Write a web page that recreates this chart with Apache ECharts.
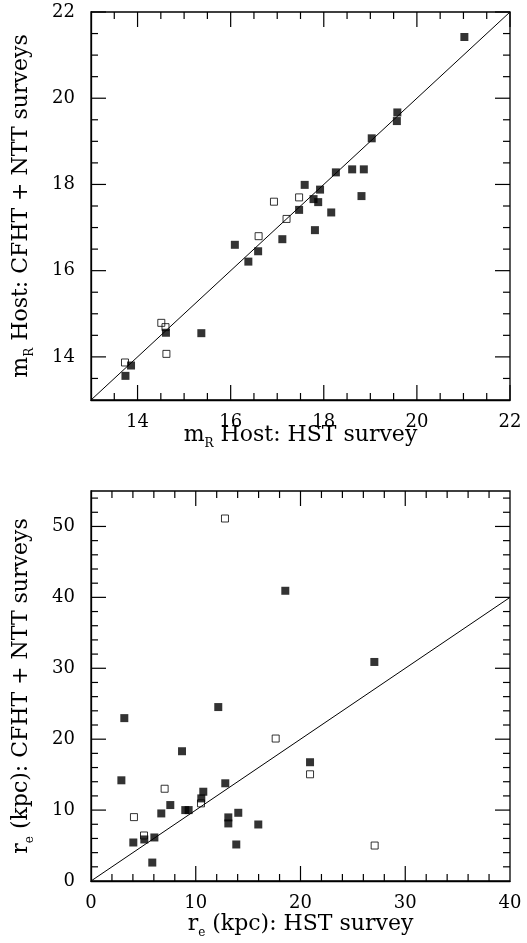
<!DOCTYPE html>
<html>
<head>
<meta charset="utf-8">
<script src="https://cdn.jsdelivr.net/npm/echarts@6/dist/echarts.min.js"></script>
<style>
html,body{margin:0;padding:0;background:#fff;}
#chart{width:527px;height:943px;}
</style>
</head>
<body>
<div id="chart"></div>
<script>
// ---- Data: top panel (m_R host magnitudes) ----
const magFilled = [
  [21.02,21.42],[19.58,19.67],[19.57,19.47],[19.03,19.07],[18.61,18.35],[18.86,18.35],
  [18.26,18.28],[17.59,17.99],[17.92,17.88],[17.47,17.41],[17.78,17.66],[17.88,17.59],
  [18.81,17.73],[18.16,17.35],[17.81,16.94],[17.11,16.73],[16.09,16.60],[16.38,16.21],
  [16.59,16.45],[14.61,14.56],[15.37,14.55],[13.86,13.80],[13.74,13.56]
];
const magOpen = [
  [16.93,17.60],[17.47,17.70],[17.20,17.20],[16.60,16.80],[14.51,14.79],[14.60,14.69],
  [14.62,14.07],[13.73,13.87]
];
const magLine = [[13,13],[22,22]];
const magRange = [13,22];
const magMajorTicks = [14,16,18,20,22];
const magMinorTicks = [13.5,14.5,15,15.5,16.5,17,17.5,18.5,19,19.5,20.5,21,21.5];

// ---- Data: bottom panel (r_e in kpc) ----
const reFilled = [
  [18.55,40.93],[27.05,30.89],[20.91,16.75],[12.15,24.53],[3.18,22.97],[8.69,18.30],
  [2.90,14.20],[12.82,13.78],[10.72,12.59],[10.53,11.65],[7.57,10.71],[6.71,9.53],
  [9.00,10.00],[9.32,10.00],[13.11,8.97],[13.11,8.12],[14.06,9.62],[15.97,7.97],
  [13.87,5.15],[6.05,6.14],[5.09,5.86],[4.04,5.43],[5.85,2.60]
];
const reOpen = [
  [12.79,51.12],[17.63,20.09],[20.91,15.05],[27.08,5.00],[7.03,13.01],[10.50,10.95],
  [4.10,9.01],[5.06,6.42]
];
const reLine = [[0,0],[40,40]];
const reXRange = [0,40];
const reYRange = [0,55];
const reXMajorTicks = [10,20,30];
const reXMinorTicks = [2,4,6,8,12,14,16,18,22,24,26,28,32,34,36,38];
const reYMajorTicks = [10,20,30,40,50];
const reYMinorTicks = [2,4,6,8,12,14,16,18,22,24,26,28,32,34,36,38,42,44,46,48,52,54];
const reXLabels = [0,10,20,30,40];
const reYLabels = [0,10,20,30,40,50];

const FONT = 'DejaVu Serif';
const INK = '#000';
const MAJOR_LEN = 15, MINOR_LEN = 7;

function mainAxis(dim, grid, range, labels, name, nameGap) {
  return {
    type: 'value', gridIndex: grid, min: range[0], max: range[1],
    axisLine: {show: true, onZero: false, lineStyle: {color: INK, width: 1.3}},
    splitLine: {show: false},
    axisTick: {show: false},
    axisLabel: {show: true, customValues: labels, fontFamily: FONT, fontSize: 18, color: INK,
                margin: dim === 'x' ? 13 : 16},
    name: name, nameLocation: 'middle', nameGap: nameGap, nameMoveOverlap: false,
    nameTextStyle: {
      fontFamily: FONT, fontSize: 22, color: INK,
      rich: {
        a: {fontFamily: FONT, fontSize: 22, color: INK, lineHeight: 26, verticalAlign: 'top'},
        s: {fontFamily: FONT, fontSize: 12, color: INK, lineHeight: 26, verticalAlign: 'bottom', padding: [10,0,0,0]}
      }
    }
  };
}

function diagSeries(data, ai) {
  return {type: 'line', data: data, xAxisIndex: ai, yAxisIndex: ai, showSymbol: false,
          lineStyle: {color: INK, width: 1}, z: 1};
}
function filledSeries(data, ai) {
  return {type: 'scatter', data: data, xAxisIndex: ai, yAxisIndex: ai, symbol: 'rect', symbolSize: 8,
          itemStyle: {color: INK}, z: 3};
}
function openSeries(data, ai) {
  return {type: 'scatter', data: data, xAxisIndex: ai, yAxisIndex: ai, symbol: 'rect', symbolSize: 7,
          itemStyle: {color: 'rgba(255,255,255,0)', borderColor: INK, borderWidth: 1}, z: 3};
}

const chart = echarts.init(document.getElementById('chart'));
chart.setOption({
  animation: false,
  grid: [
    {left: 91, top: 12, width: 419, height: 388, show: true, borderColor: INK, borderWidth: 1.3,
     containLabel: false, outerBoundsMode: 'none'},
    {left: 91, top: 491, width: 419, height: 390, show: true, borderColor: INK, borderWidth: 1.3,
     containLabel: false, outerBoundsMode: 'none'}
  ],
  xAxis: [
    mainAxis('x', 0, magRange, magMajorTicks, '{a|m}{s|R}{a| Host: HST survey}', 24),
    mainAxis('x', 1, reXRange, reXLabels, '{a|r}{s|e}{a| (kpc): HST survey}', 32)
  ],
  yAxis: [
    mainAxis('y', 0, magRange, magMajorTicks, '{a|m}{s|R}{a| Host: CFHT + NTT surveys}', 55),
    mainAxis('y', 1, reYRange, reYLabels, '{a|r}{s|e}{a| (kpc): CFHT + NTT surveys}', 55)
  ],
  series: [
    diagSeries(magLine, 0), filledSeries(magFilled, 0), openSeries(magOpen, 0),
    diagSeries(reLine, 1), filledSeries(reFilled, 1), openSeries(reOpen, 1)
  ]
});

// Tick marks on all four frame sides, positioned through the axis scales (convertToPixel).
function frameTickElements(ai, xMaj, xMin, yMaj, yMin, xr, yr) {
  const finder = {xAxisIndex: ai, yAxisIndex: ai};
  const els = [];
  const add = (x1, y1, x2, y2) => els.push({
    type: 'line', silent: true, z: 100,
    shape: {x1: x1, y1: y1, x2: x2, y2: y2},
    style: {stroke: INK, lineWidth: 1.2}
  });
  const xTicks = (vals, len) => vals.forEach(v => {
    const b = chart.convertToPixel(finder, [v, yr[0]]);
    const t = chart.convertToPixel(finder, [v, yr[1]]);
    add(b[0], b[1], b[0], b[1] - len);
    add(t[0], t[1], t[0], t[1] + len);
  });
  const yTicks = (vals, len) => vals.forEach(v => {
    const l = chart.convertToPixel(finder, [xr[0], v]);
    const r = chart.convertToPixel(finder, [xr[1], v]);
    add(l[0], l[1], l[0] + len, l[1]);
    add(r[0], r[1], r[0] - len, r[1]);
  });
  xTicks(xMaj, MAJOR_LEN); xTicks(xMin, MINOR_LEN);
  yTicks(yMaj, MAJOR_LEN); yTicks(yMin, MINOR_LEN);
  return els;
}

const tickEls = [].concat(
  frameTickElements(0, magMajorTicks, magMinorTicks, magMajorTicks, magMinorTicks, magRange, magRange),
  frameTickElements(1, reXMajorTicks, reXMinorTicks, reYMajorTicks, reYMinorTicks, reXRange, reYRange)
);
chart.setOption({graphic: {elements: tickEls}});
</script>
</body>
</html>
